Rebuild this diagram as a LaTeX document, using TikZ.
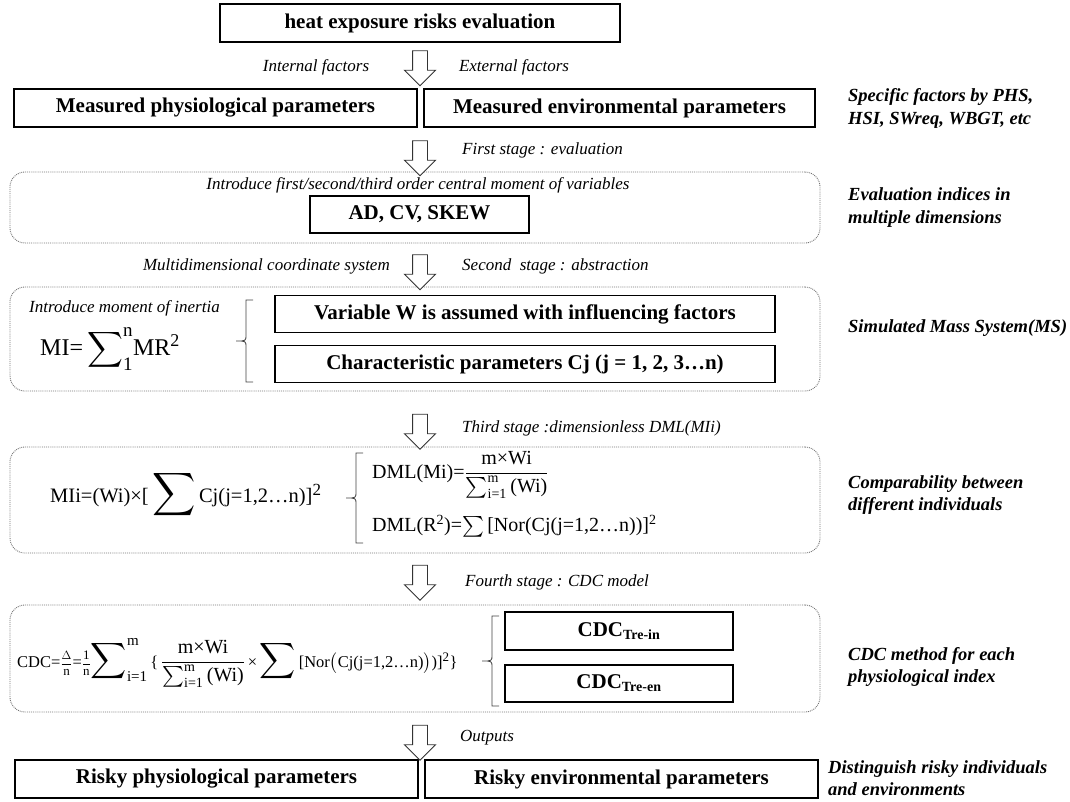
\documentclass[tikz,border=0pt]{standalone}
\usepackage{amsmath}
\usepackage{fontspec}
\setmainfont{Liberation Serif}
\usetikzlibrary{shapes.arrows}
\tikzstyle{box}=[draw, line width=1.3pt, inner sep=0pt, font=\fontsize{21}{25}\selectfont\bfseries]
\tikzstyle{stage}=[draw=black!55, densely dotted, line width=0.9pt, rounded corners=15pt, inner sep=0pt]
\tikzstyle{lab}=[inner sep=0pt, font=\fontsize{17}{20}\selectfont\itshape]
\tikzstyle{note}=[inner sep=0pt, anchor=west, align=left, font=\fontsize{18.5}{22.5}\selectfont\bfseries\itshape]
\tikzstyle{down}=[single arrow, draw=black!80, line width=0.9pt, fill=white, shape border rotate=270, inner sep=7pt, single arrow head extend=8pt, minimum height=35pt]
\tikzstyle{brk}=[line width=0.8pt, black!75]
\tikzstyle{eq}=[inner sep=0pt]
\newcommand{\hugesum}[1]{\mathop{\scalebox{#1}{$\displaystyle\sum$}}}
\newcommand{\limtxt}[2]{\text{\fontsize{#1}{#1}\selectfont #2}}
\newcommand{\sidebrace}[3]{%
  \draw[brk] (#1+7,#2) -- (#1,#2) -- (#1,{(#2+#3)/2-6}) .. controls (#1,{(#2+#3)/2}) .. (#1-10,{(#2+#3)/2})
    .. controls (#1,{(#2+#3)/2}) .. (#1,{(#2+#3)/2+6}) -- (#1,#3) -- (#1+7,#3);}

\begin{document}
\begin{tikzpicture}[x=1pt,y=-1pt]
\useasboundingbox (0,0) rectangle (1070,801);

% dotted stage frames
\node[stage, minimum width=810pt, minimum height=71pt] (frame1) at (415,207.5) {};
\node[stage, minimum width=810pt, minimum height=104pt] (frame2) at (415,339) {};
\node[stage, minimum width=810pt, minimum height=106pt] (frame3) at (415,500) {};
\node[stage, minimum width=810pt, minimum height=107pt] (frame4) at (415,658.5) {};

% boxes
\node[box, minimum width=400pt, minimum height=38pt] (heat) at (420,23) {heat exposure risks evaluation};
\node[box, minimum width=403pt, minimum height=38pt] (physio) at (215.5,108) {Measured physiological parameters};
\node[box, minimum width=391pt, minimum height=38pt] (enviro) at (619.5,108) {Measured environmental parameters};
\node[box, minimum width=219pt, minimum height=37pt] (adcv) at (419.5,214.5) {AD, CV, SKEW};
\node[box, minimum width=500pt, minimum height=37pt] (varw) at (525,314) {Variable W is assumed with influencing factors};
\node[box, minimum width=500pt, minimum height=37pt] (charp) at (525,364) {Characteristic parameters Cj (j = 1, 2, 3…n)};
\node[box, minimum width=228pt, minimum height=38pt] (cdcin) at (619,631) {CDC$_{\limtxt{14}{Tre-in}}$};
\node[box, minimum width=228pt, minimum height=37pt] (cdcen) at (619,683.5) {CDC$_{\limtxt{14}{Tre-en}}$};
\node[box, minimum width=403pt, minimum height=38pt] (riskp) at (216.5,779) {Risky physiological parameters};
\node[box, minimum width=393pt, minimum height=38pt] (riske) at (621.5,779) {Risky environmental parameters};

% hollow arrows
\node[down] (arr1) at (420,64.5) {};
\node[down] (arr2) at (420,154.5) {};
\node[down] (arr3) at (420,268.5) {};
\node[down] (arr4) at (420,428) {};
\node[down] (arr5) at (420,579) {};
\node[down] (arr6) at (420,739) {};

% stage labels
\node[lab] (intf) at (316,67) {Internal factors};
\node[lab] (extf) at (514,67) {External factors};
\node[lab, anchor=west] (st1) at (462,150) {First stage : evaluation};
\node[lab] (moment) at (418,185) {Introduce first/second/third order central moment of variables};
\node[lab, anchor=east] (multi) at (390,266) {Multidimensional coordinate system};
\node[lab, anchor=west] (st2) at (462,266) {Second\enspace stage : abstraction};
\node[lab, anchor=west] (inertia) at (29,308) {Introduce moment of inertia};
\node[lab, anchor=west] (st3) at (462,428) {Third stage :dimensionless DML(MIi)};
\node[lab, anchor=west] (st4) at (465,582) {Fourth stage : CDC model};
\node[lab, anchor=west] (outp) at (460,738) {Outputs};

% formulas
\node[eq, anchor=west, font=\fontsize{24}{28}\selectfont] (mi) at (40,349)
  {MI=\,$\hugesum{1.0}\nolimits_{\limtxt{19}{1}}^{\limtxt{19}{n}}$MR$^{\limtxt{18}{2}}$};
\node[eq, anchor=west, font=\fontsize{20.5}{25}\selectfont] (mii) at (50,495)
  {MIi=(Wi)×[\,$\hugesum{1.45}$\,Cj(j=1,2…n)]$^{\limtxt{17}{2}}$};
\node[eq, anchor=west, font=\fontsize{20}{24}\selectfont] (dmlm) at (372,475)
  {DML(Mi)=$\dfrac{\text{m×Wi}}{\sum_{\text{i=1}}^{\text{m}}\text{(Wi)}}$};
\node[eq, anchor=west, font=\fontsize{20}{24}\selectfont] (dmlr) at (372,526)
  {DML(R$^{\text{2}}$)=$\textstyle\sum$\,[Nor(Cj(j=1,2…n))]$^{\text{2}}$};
\node[eq, anchor=west, font=\fontsize{16.5}{19}\selectfont] (cdc) at (17,663)
  {CDC=\text{\fontsize{13}{15}\selectfont$\dfrac{\Delta}{\text{n}}$}=\text{\fontsize{13}{15}\selectfont$\dfrac{\text{1}}{\text{n}}$}$\hugesum{1.45}\nolimits_{\limtxt{15}{i=1}}^{\limtxt{15}{m}}$\,\{\,\text{\fontsize{20}{24}\selectfont$\dfrac{\text{m×Wi}}{\sum_{\text{i=1}}^{\text{m}}\text{(Wi)}}$}\,×\,$\hugesum{1.45}$\,[Nor$\bigl($Cj(j=1,2…n)$\bigr)$)]$^{\limtxt{13}{2}}$\}};

% braces
\sidebrace{246}{300}{382}
\sidebrace{356}{453}{543}
\sidebrace{492}{616}{706}

% side notes
\node[note] (n1) at (848,108.5) {Specific factors by PHS,\\HSI, SWreq, WBGT, etc};
\node[note] (n2) at (848,207.5) {Evaluation indices in\\multiple dimensions};
\node[note] (n3) at (848,328) {Simulated Mass System(MS)};
\node[note] (n4) at (848,495) {Comparability between\\different individuals};
\node[note] (n5) at (848,667) {CDC method for each\\physiological index};
\node[note] (n6) at (828,778) {Distinguish risky individuals\\and environments};
\end{tikzpicture}
\end{document}
